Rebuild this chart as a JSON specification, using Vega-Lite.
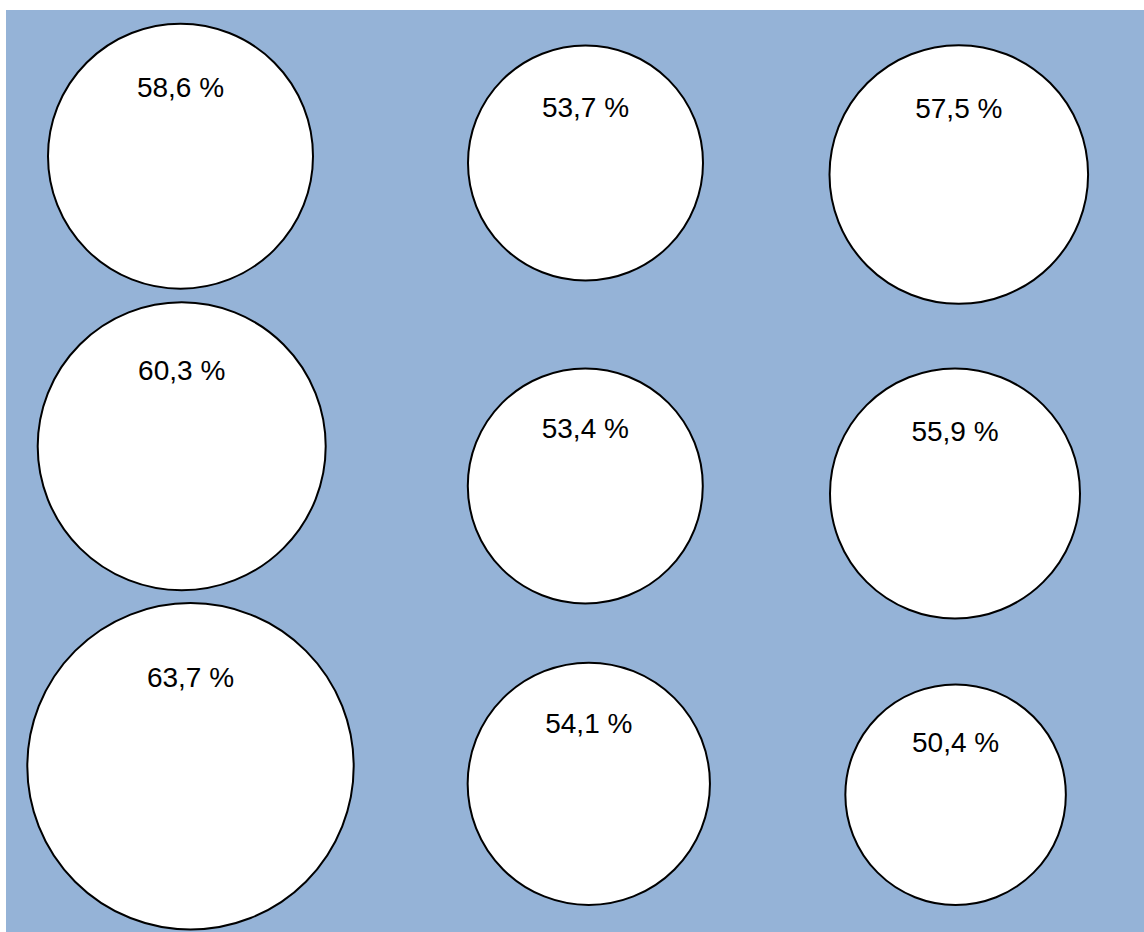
{
  "$schema": "https://vega.github.io/schema/vega-lite/v6.json",
  "width": 1144,
  "height": 932,
  "autosize": {"type": "fit", "contains": "padding"},
  "padding": {"left": 6, "top": 10, "right": 0, "bottom": 0},
  "background": "white",
  "config": {"view": {"fill": "#95B3D7", "stroke": null}},
  "data": {
    "values": [
      {"label": "58,6 %", "value": 58.6, "x": 174.5, "y": 146.2, "label_y": 86.7},
      {"label": "53,7 %", "value": 53.7, "x": 579.5, "y": 153.0, "label_y": 106.7},
      {"label": "57,5 %", "value": 57.5, "x": 952.8, "y": 164.5, "label_y": 108.3},
      {"label": "60,3 %", "value": 60.3, "x": 175.7, "y": 436.3, "label_y": 370.0},
      {"label": "53,4 %", "value": 53.4, "x": 579.3, "y": 476.0, "label_y": 428.3},
      {"label": "55,9 %", "value": 55.9, "x": 949.0, "y": 483.5, "label_y": 431.0},
      {"label": "63,7 %", "value": 63.7, "x": 184.5, "y": 756.3, "label_y": 676.7},
      {"label": "54,1 %", "value": 54.1, "x": 582.8, "y": 773.8, "label_y": 723.3},
      {"label": "50,4 %", "value": 50.4, "x": 949.6, "y": 784.7, "label_y": 741.7}
    ]
  },
  "encoding": {
    "x": {"field": "x", "type": "quantitative", "scale": {"domain": [0, 1138], "nice": false, "zero": false}, "axis": null}
  },
  "layer": [
    {
      "mark": {"type": "point", "shape": "circle", "filled": true, "fill": "white", "stroke": "black", "strokeWidth": 2, "opacity": 1, "fillOpacity": 1, "strokeOpacity": 1},
      "encoding": {
        "y": {"field": "y", "type": "quantitative", "scale": {"domain": [0, 922], "reverse": true, "nice": false, "zero": false}, "axis": null},
        "size": {
          "field": "value",
          "type": "quantitative",
          "scale": {
            "zero": false,
            "nice": false,
            "domain": [50.4, 53.4, 53.7, 54.1, 55.9, 57.5, 58.6, 60.3, 63.7],
            "range": [48620, 55225, 55225, 58709, 62500, 66874, 70225, 82944, 106537]
          },
          "legend": null
        }
      }
    },
    {
      "mark": {"type": "text", "font": "Liberation Sans", "fontSize": 28, "baseline": "alphabetic", "align": "center", "color": "black"},
      "encoding": {
        "y": {"field": "label_y", "type": "quantitative", "scale": {"domain": [0, 922], "reverse": true, "nice": false, "zero": false}, "axis": null},
        "text": {"field": "label", "type": "nominal"}
      }
    }
  ]
}
